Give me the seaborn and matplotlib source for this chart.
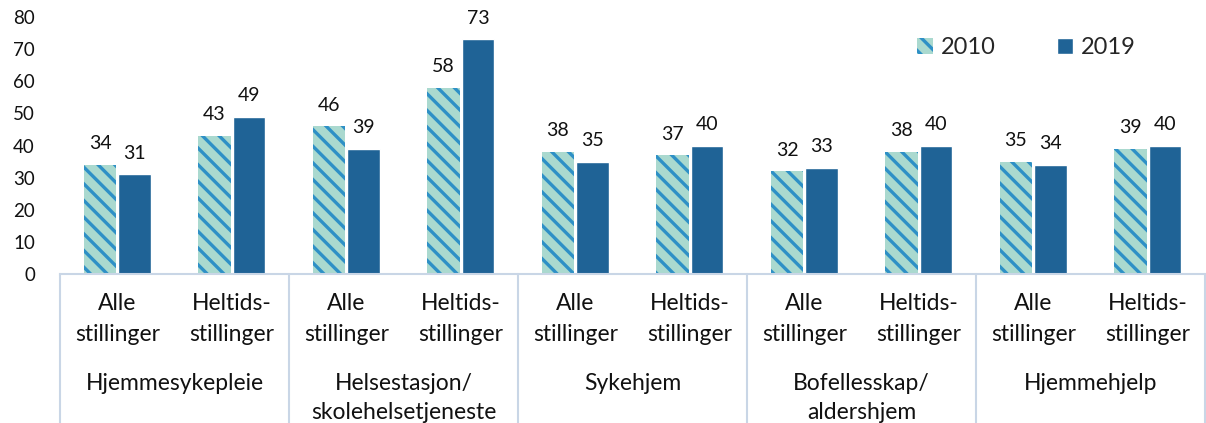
import pandas as pd
import matplotlib
matplotlib.use('Agg')
import matplotlib.pyplot as plt
import matplotlib.transforms as mtransforms
import seaborn as sns

# Data
groups = ['Hjemmesykepleie', 'Helsestasjon/\nskolehelsetjeneste', 'Sykehjem',
          'Bofellesskap/\naldershjem', 'Hjemmehjelp']
subs = ['Alle\nstillinger', 'Heltids-\nstillinger']
years = ['2010', '2019']
values_2010 = [34, 43, 46, 58, 38, 37, 32, 38, 35, 39]
values_2019 = [31, 49, 39, 73, 35, 40, 33, 40, 34, 40]

# long format table for seaborn
rows = []
keys = []
for gi, g in enumerate(groups):
    for si, s in enumerate(subs):
        k = f'{gi}-{si}'
        keys.append(k)
        idx = gi * 2 + si
        rows.append({'key': k, 'year': '2010', 'value': values_2010[idx]})
        rows.append({'key': k, 'year': '2019', 'value': values_2019[idx]})
df = pd.DataFrame(rows)

sns.set_style('white')
plt.rcParams['font.family'] = ['Lato', 'DejaVu Sans']
plt.rcParams['hatch.linewidth'] = 2.4
plt.rcParams['hatch.color'] = '#2e90c6'

line_col = '#c9d6e6'
col_2010 = '#aad9cf'
col_2019 = '#1f6396'
stripe = '#2e90c6'

fig = plt.figure(figsize=(12.06, 4.23), dpi=100)
ax = fig.add_axes([60 / 1206, 149 / 423, 1145 / 1206, 257 / 423])

sns.barplot(data=df, x='key', y='value', hue='year', order=keys, hue_order=years,
            palette={'2010': col_2010, '2019': col_2019}, width=0.603, gap=0.058,
            saturation=1, errorbar=None, ax=ax)

# hatch the 2010 bars
for bar in ax.containers[0]:
    bar.set_hatch('\\\\')
    bar.set_edgecolor(stripe)
    bar.set_linewidth(0)

for cont in ax.containers:
    ax.bar_label(cont, padding=9, fontsize=14, color='#111111')

ax.set_xlim(-0.5, len(keys) - 0.5)
ax.set_ylim(0, 80)
ax.set_yticks(range(0, 81, 10))
ax.tick_params(axis='y', length=0, pad=18, labelsize=13.5, labelcolor='#111111')
ax.tick_params(axis='x', length=0, pad=14, labelsize=16.5, labelcolor='#111111')
ax.set_xticks(range(len(keys)))
ax.set_xticklabels([subs[i % 2] for i in range(len(keys))], linespacing=1.55)
ax.set_xlabel('')
ax.set_ylabel('')

for side in ['left', 'right', 'top']:
    ax.spines[side].set_visible(False)
ax.spines['bottom'].set_color(line_col)
ax.spines['bottom'].set_linewidth(1.5)

trans = mtransforms.blended_transform_factory(ax.transData, ax.transAxes)
for gi in range(len(groups) + 1):
    x = gi * 2 - 0.5
    ax.plot([x, x], [0, -0.6], color=line_col, lw=1.5, transform=trans, clip_on=False)
for gi, g in enumerate(groups):
    ax.text(gi * 2 + 0.5, -0.385, g, transform=trans, ha='center', va='top',
            fontsize=16.5, linespacing=1.5, color='#111111')

leg = ax.legend(loc='upper right', bbox_to_anchor=(0.958, 1.005), ncol=2, frameon=False,
                fontsize=17, handlelength=0.65, handleheight=0.65, handletextpad=0.35,
                columnspacing=2.6)
h = leg.legend_handles[0]
h.set_hatch('\\\\')
h.set_edgecolor(stripe)
h.set_linewidth(0)

fig.savefig('out.png', dpi=100)
